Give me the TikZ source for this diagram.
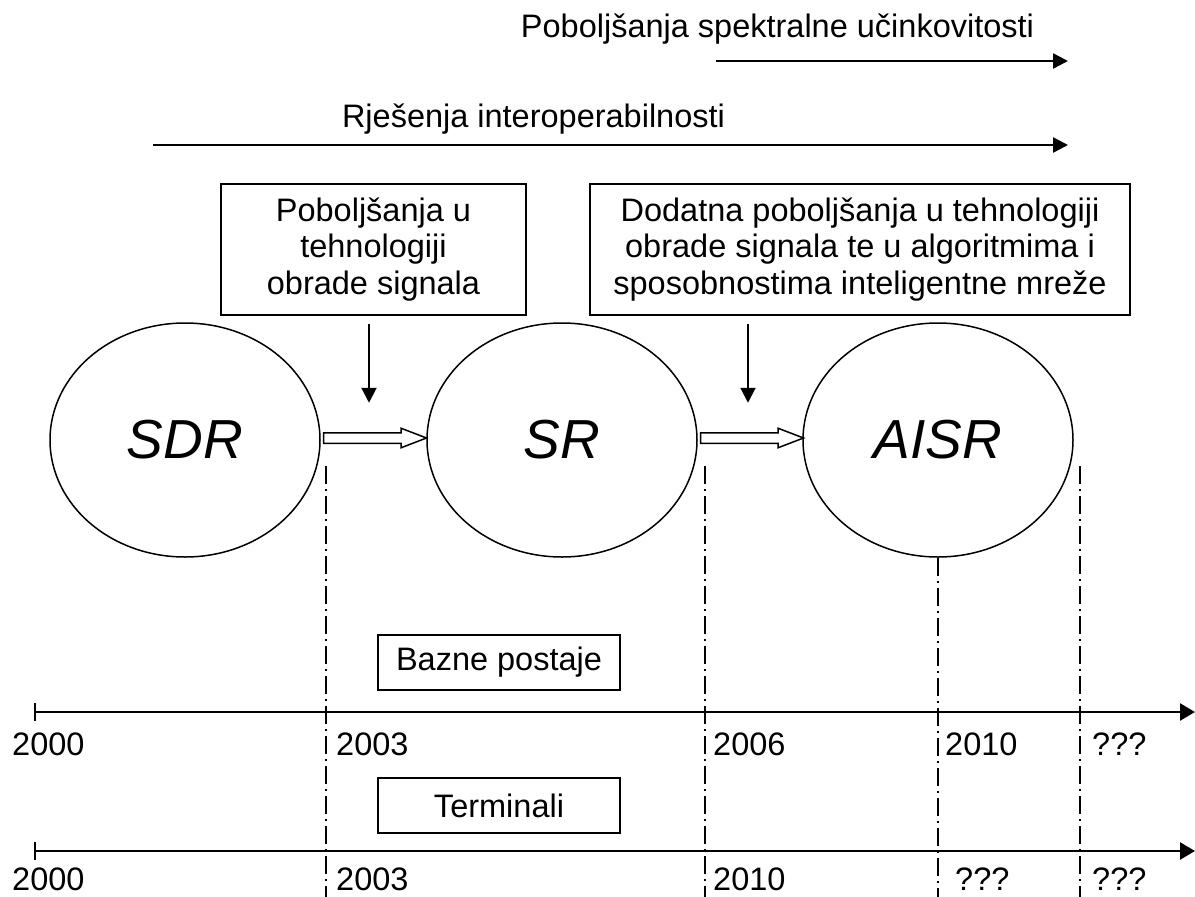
\documentclass[tikz,border=0pt]{standalone}
\usepackage{fontspec}
\setmainfont{Liberation Sans}
\usetikzlibrary{shapes.geometric,shapes.arrows,arrows.meta,calc}

\begin{document}
\begin{tikzpicture}[x=1pt,y=-1pt,font=\fontsize{32.5}{36.5}\selectfont]
\tikzset{stage/.style={ellipse,draw,line width=1.5pt,minimum width=270pt,minimum height=234pt,inner sep=0pt,font=\fontsize{55}{60}\selectfont\itshape},
  textbox/.style={draw,line width=1.5pt,align=center,inner sep=0pt},
  hollow/.style={single arrow,draw,line width=1.5pt,inner sep=4.5pt,single arrow head extend=4.5pt,single arrow tip angle=42,minimum height=103pt,anchor=tail},
  tip/.style={-{Triangle[length=15pt,width=15pt]}},
  guide/.style={line width=1.5pt,dash pattern=on 18pt off 5pt on 2pt off 5pt},
  axis/.style={line width=2.5pt,{Bar[width=18pt,line width=1.5pt]}-{Triangle[length=15pt,width=17pt]}}}
\useasboundingbox (0,0) rectangle (1195,897);

\node (spec) [anchor=base] at (777.5,37) {Poboljšanja spektralne učinkovitosti};
\draw[tip,line width=2.5pt] (716,61) -- (1068,61);
\node (inter) [anchor=base] at (533.5,127) {Rješenja interoperabilnosti};
\draw[tip,line width=2.5pt] (153,145) -- (1068,145);

\node (box1) [textbox,minimum width=305pt,minimum height=131pt] at (373.5,249.5)
  {Poboljšanja u\\tehnologiji\\obrade signala};
\node (box2) [textbox,minimum width=540pt,minimum height=131pt] at (860,249.5)
  {Dodatna poboljšanja u tehnologiji\\obrade signala te u algoritmima i\\sposobnostima inteligentne mreže};
\draw[tip,line width=2pt] ([xshift=-4.5pt,yshift=-8pt]box1.south) -- ++(0,79);
\draw[tip,line width=2pt] ([xshift=-112pt,yshift=-8pt]box2.south) -- ++(0,79);

\node (sdr) [stage] at (185,440) {SDR};
\node (sr) [stage] at (562,440) {SR};
\node (aisr) [stage] at (938,440) {AISR};
\node (a1) [hollow] at ($(sdr.east)+(2,-2)$) {};
\node (a2) [hollow] at ($(sr.east)+(2,-2)$) {};

\foreach \x/\y in {326/466,705/466,1080/466}
  \draw[guide] (\x,\y) -- (\x,897);
\draw[guide] (aisr.south) -- (aisr.south |- 0,897);

\node (base) [textbox,minimum width=242pt,minimum height=55pt] at (499,662.5) {Bazne postaje};
\draw[axis] (34,712) -- (1195,712);
\foreach \x/\t in {12/2000,336/2003,713/2006,945/2010,1092/???}
  \node[anchor=base west,inner sep=0pt] at (\x,755) {\t};

\node (term) [textbox,minimum width=242pt,minimum height=55pt] at (499,805.5) {Terminali};
\draw[axis] (34,851) -- (1195,851);
\foreach \x/\t in {12/2000,336/2003,713/2010,955/???,1092/???}
  \node[anchor=base west,inner sep=0pt] at (\x,890) {\t};
\end{tikzpicture}
\end{document}
